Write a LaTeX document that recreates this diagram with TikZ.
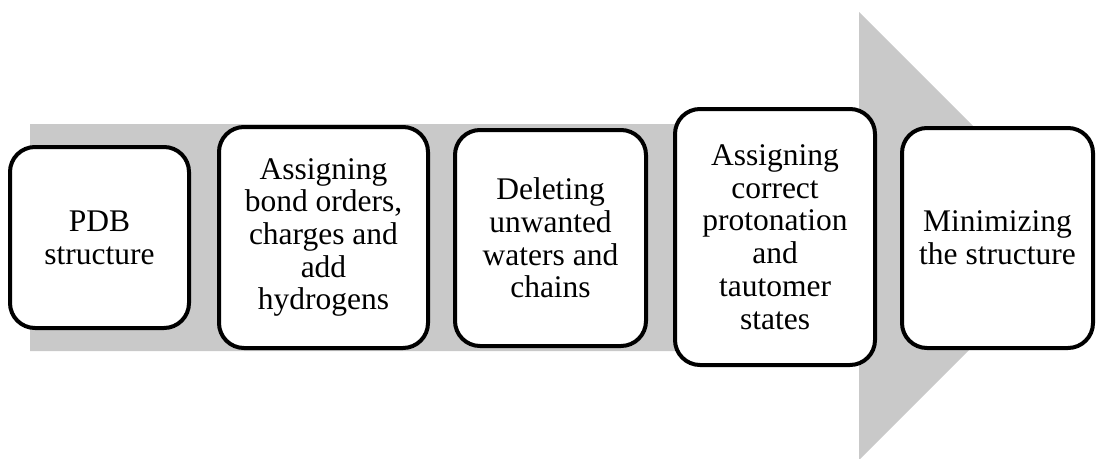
\documentclass[tikz,border=0pt]{standalone}
\usepackage{fontspec}
\setmainfont{Liberation Serif}
\definecolor{flowgray}{RGB}{201,201,201}
\tikzset{
    stage/.style={draw=black, line width=4pt, fill=white, rounded corners=25pt,
        align=center, inner sep=0pt, font=\fontsize{31.5}{32.7}\selectfont}
}

\begin{document}
\begin{tikzpicture}[x=1pt, y=-1pt]
            \useasboundingbox (0,0) rectangle (1097,458);
            % big arrow behind the stages
            \fill[flowgray] (30,124) -- (859,124) -- (859,12) -- (1083,236)
                -- (859,460) -- (859,351) -- (30,351) -- cycle;
            \node[stage, minimum width=179pt, minimum height=181pt] (pdb) at (99.5,237.5)
                {PDB\\structure};
            \node[stage, minimum width=209pt, minimum height=221pt] (bonds) at (323.5,237.5)
                {Assigning\\bond orders,\\charges and\\add\\hydrogens};
            \node[stage, minimum width=191pt, minimum height=216pt] (waters) at (550.5,238)
                {Deleting\\unwanted\\waters and\\chains};
            \node[stage, minimum width=200pt, minimum height=256pt] (protonation) at (775,237)
                {Assigning\\correct\\protonation\\and\\tautomer\\states};
            \node[stage, minimum width=191pt, minimum height=220pt] (minimize) at (997.5,238)
                {Minimizing\\the structure};
        \end{tikzpicture}
\end{document}
